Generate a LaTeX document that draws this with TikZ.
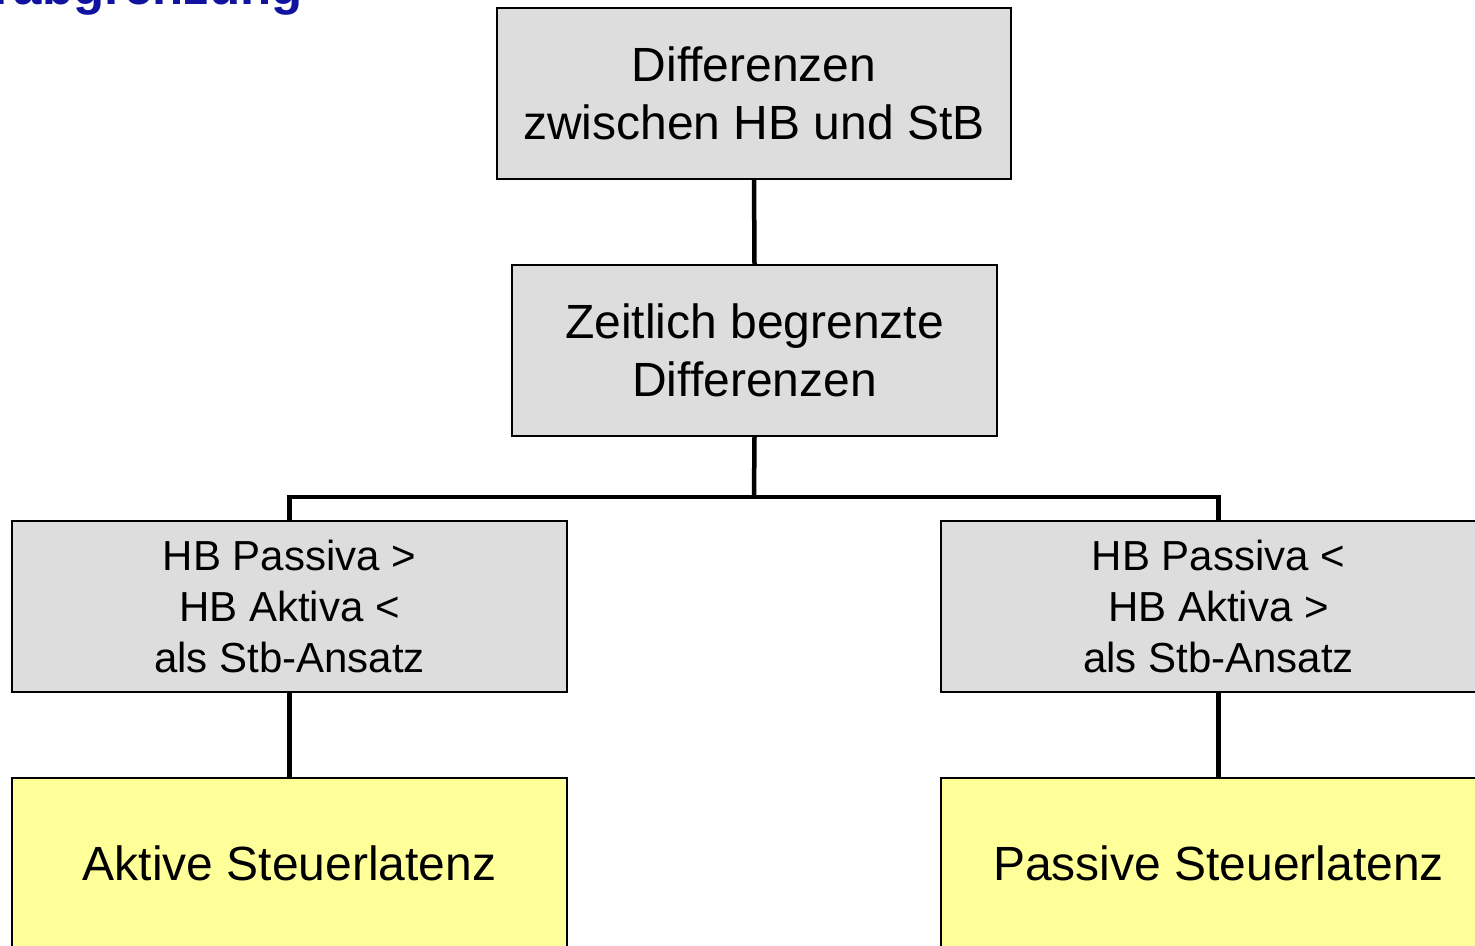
\documentclass[tikz,border=0pt]{standalone}
\usepackage{fontspec}
\setmainfont{Liberation Sans}
\usetikzlibrary{positioning,calc}

\definecolor{boxgray}{HTML}{DDDDDD}
\definecolor{latyellow}{HTML}{FFFF99}
\definecolor{titleblue}{RGB}{18,18,160}

\begin{document}
\begin{tikzpicture}[x=1pt, y=-1pt,
    graybox/.style={draw=black, line width=1.5pt, fill=boxgray, inner sep=0pt,
        minimum height=171pt, align=center, font={\fontsize{48}{57.6}\selectfont}},
    hbbox/.style={graybox, minimum width=555pt, font={\fontsize{42}{51}\selectfont}},
    latbox/.style={graybox, fill=latyellow, minimum width=555pt},
    conn/.style={line width=4.5pt}]

\useasboundingbox (0,0) rectangle (1475,945);

% cut-off title
\node[anchor=base east, text=titleblue, font={\fontsize{51}{60}\bfseries}, inner sep=0pt]
    (title) at (303,4) {Steuerabgrenzung};

\node[graybox, minimum width=514pt] (diff) at (754,93.5) {Differenzen\\zwischen HB und StB};
\node[graybox, minimum width=485pt] (zeit) at (754.5,350.5) {Zeitlich begrenzte\\Differenzen};

\node[hbbox] (hbl) at (289.5,606.5) {HB Passiva >\\HB Aktiva <\\als Stb-Ansatz};
\node[hbbox] (hbr) at (1218.5,606.5) {HB Passiva <\\HB Aktiva >\\als Stb-Ansatz};

\node[latbox] (aktiv) at (289.5,863.5) {Aktive Steuerlatenz};
\node[latbox] (passiv) at (1218.5,863.5) {Passive Steuerlatenz};

\coordinate (split) at (754,497);

\draw[conn] (diff.south) -- (zeit.north);
\draw[conn] (zeit.south) -- (split);
\draw[conn] (hbl.north) -- (hbl.north |- split) -- (hbr.north |- split) -- (hbr.north);
\draw[conn] (hbl.south) -- (aktiv.north);
\draw[conn] (hbr.south) -- (passiv.north);

\end{tikzpicture}
\end{document}
